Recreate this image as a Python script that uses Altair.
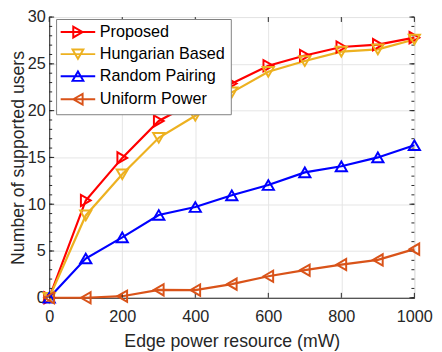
import altair as alt
import pandas as pd

# ---- data ----
power = [0, 100, 200, 300, 400, 500, 600, 700, 800, 900, 1000]
proposed = [0, 10.4, 14.95, 18.9, 21.0, 22.9, 24.8, 25.9, 26.8, 27.05, 27.8]
hungarian = [0, 8.8, 13.2, 17.1, 19.45, 21.95, 24.15, 25.3, 26.3, 26.55, 27.6]
random_pairing = [0, 4.2, 6.45, 8.85, 9.7, 10.95, 12.05, 13.4, 14.05, 15.0, 16.3]
uniform = [0, 0, 0.17, 0.85, 0.82, 1.46, 2.3, 2.95, 3.55, 4.05, 5.2]

names = ["Proposed", "Hungarian Based", "Random Pairing", "Uniform Power"]
colors = ["#FF0000", "#EDB120", "#0000FF", "#D95319"]
shapes = ["triangle-right", "triangle-down", "triangle-up", "triangle-left"]
legend_shapes = [
    "M-3.2,0L3.2,0M0.866,0L-0.866,-1L-0.866,1Z",
    "M-3.2,0L3.2,0M0,0.866L-1,-0.866L1,-0.866Z",
    "M-3.2,0L3.2,0M0,-0.866L-1,0.866L1,0.866Z",
    "M-3.2,0L3.2,0M-0.866,0L0.866,-1L0.866,1Z",
]

x_ticks = [0, 200, 400, 600, 800, 1000]
y_ticks = [0, 5, 10, 15, 20, 25, 30]
y_minor = list(range(0, 31))

rows = []
for name, vals in zip(names, [proposed, hungarian, random_pairing, uniform]):
    for xv, yv in zip(power, vals):
        rows.append({"power": xv, "users": yv, "series": name})
df = pd.DataFrame(rows)

W, H = 372, 286
FONT = "Liberation Sans"
TXT = "#262626"

xscale = alt.Scale(domain=[0, 1000], nice=False)
yscale = alt.Scale(domain=[0, 30], nice=False)

x_axis = alt.Axis(values=x_ticks, format="d", title="Edge power resource (mW)", grid=True,
                  ticks=False, labelFontSize=16.5, titleFontSize=18, labelPadding=11,
                  titlePadding=8, labelFont=FONT, titleFont=FONT, labelColor=TXT,
                  titleColor=TXT, titleFontWeight="normal", domainColor=TXT,
                  gridColor="#e4e4e4", labelFlush=False)
y_axis = alt.Axis(values=y_ticks, format="d", title="Number of supported users", grid=True,
                  ticks=False, labelFontSize=16.5, titleFontSize=18, labelPadding=4,
                  titlePadding=0, labelFont=FONT, titleFont=FONT, labelColor=TXT,
                  titleColor=TXT, titleFontWeight="normal", domainColor=TXT,
                  gridColor="#e4e4e4", labelFlush=False)

base = alt.Chart(df)

def X(field):
    return alt.X(field, scale=xscale, axis=x_axis)

def Y(field):
    return alt.Y(field, scale=yscale, axis=y_axis)

lines = base.mark_line(strokeWidth=2.2).encode(
    x=X("power:Q"), y=Y("users:Q"),
    color=alt.Color("series:N", scale=alt.Scale(domain=names, range=colors), legend=None),
)

points = base.mark_point(filled=False, size=130, strokeWidth=2, opacity=1).encode(
    x=X("power:Q"), y=Y("users:Q"),
    color=alt.Color("series:N", scale=alt.Scale(domain=names, range=colors), legend=None),
    shape=alt.Shape("series:N", scale=alt.Scale(domain=names, range=shapes), legend=None),
)

leg = alt.Legend(title=None, orient="none", legendX=7, legendY=2, labelFontSize=16.5,
                 labelFont=FONT, labelColor="#000000", symbolSize=121, symbolStrokeWidth=2,
                 padding=5, rowPadding=3.5, strokeColor="#7f7f7f", fillColor="#ffffff",
                 symbolOffset=9, labelOffset=14)

legend_layer = base.transform_filter("false").mark_point(
    filled=False, size=121, strokeWidth=2, opacity=1).encode(
    x=X("power:Q"), y=Y("users:Q"),
    color=alt.Color("series:N", scale=alt.Scale(domain=names, range=colors), legend=leg),
    shape=alt.Shape("series:N", scale=alt.Scale(domain=names, range=legend_shapes), legend=leg),
)

ydf_minor = pd.DataFrame({"v": y_minor})
ydf_major = pd.DataFrame({"v": y_ticks})
xdf_major = pd.DataFrame({"v": x_ticks})

def yrule(d, x0, x1):
    return alt.Chart(d).mark_rule(color=TXT, strokeWidth=1).encode(
        y=Y("v:Q"), x=alt.value(x0), x2=alt.value(x1))

def xrule(d, y0, y1):
    return alt.Chart(d).mark_rule(color=TXT, strokeWidth=1).encode(
        x=X("v:Q"), y=alt.value(y0), y2=alt.value(y1))

tick_layers = [
    yrule(ydf_minor, 0, 3), yrule(ydf_major, 0, 5),
    yrule(ydf_minor, W - 3, W), yrule(ydf_major, W - 5, W),
    xrule(xdf_major, 0, 5), xrule(xdf_major, H - 5, H),
]

chart = alt.layer(lines, *tick_layers, points, legend_layer).resolve_scale(
    shape="independent", color="independent"
).properties(
    width=W, height=H,
    autosize=alt.AutoSizeParams(type="none"),
    padding={"left": 42, "top": 6, "right": 20, "bottom": 52},
).configure_view(stroke=TXT, strokeWidth=1).configure(background="white")

chart.save("out.html", embed_options={"renderer": "svg", "actions": False})
